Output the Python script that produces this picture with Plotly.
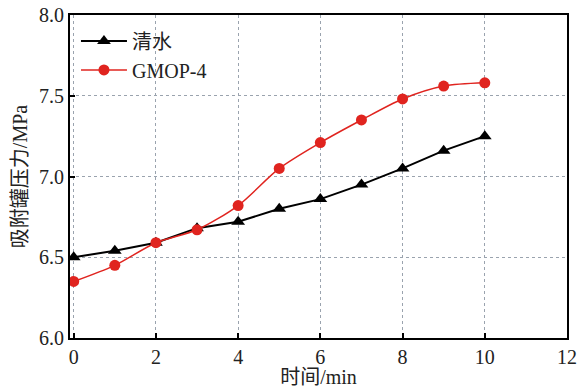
import plotly.graph_objects as go

time_min = [0, 1, 2, 3, 4, 5, 6, 7, 8, 9, 10]
water = [6.50, 6.54, 6.59, 6.68, 6.72, 6.80, 6.86, 6.95, 7.05, 7.16, 7.25]
gmop4 = [6.35, 6.45, 6.59, 6.67, 6.82, 7.05, 7.21, 7.35, 7.48, 7.56, 7.58]
x_ticks = [0, 2, 4, 6, 8, 10, 12]
y_ticks = [6.0, 6.5, 7.0, 7.5, 8.0]

font_main = "Liberation Serif, Noto Sans CJK SC, serif"
txt = "#222"

fig = go.Figure()
fig.add_trace(go.Scatter(
    x=time_min, y=water, name="清水", mode="lines+markers",
    line=dict(color="black", width=2),
    marker=dict(symbol="triangle-up", size=12, color="black"),
))
fig.add_trace(go.Scatter(
    x=time_min, y=gmop4, name="GMOP-4", mode="lines+markers",
    line=dict(color="#e0241f", width=1.5, shape="spline", smoothing=0.8),
    marker=dict(symbol="circle", size=11, color="#e0241f"),
))

axis_common = dict(
    showline=True, linecolor="black", linewidth=2, mirror=True,
    ticks="inside", ticklen=5, tickcolor="black", tickwidth=1.5,
    showgrid=True, gridcolor="#9aa3ae", griddash="dot", gridwidth=1,
    zeroline=False, automargin=False,
    tickfont=dict(family=font_main, size=20, color=txt),
)

fig.update_xaxes(range=[-0.09, 12], tickvals=x_ticks, ticktext=[str(v) for v in x_ticks],
                 title=dict(text="时间/min", font=dict(family=font_main, size=20, color=txt), standoff=10),
                 **axis_common)
fig.update_yaxes(range=[6.0, 8.0], tickvals=y_ticks, ticktext=[f"{v:.1f}" for v in y_ticks],
                 title=dict(text="吸附罐压力/MPa", font=dict(family=font_main, size=20, color=txt), standoff=6),
                 **axis_common)

fig.update_layout(
    width=578, height=388,
    margin=dict(l=70, r=11, t=15, b=50),
    plot_bgcolor="white", paper_bgcolor="white",
    legend=dict(x=0.012, y=0.98, xanchor="left", yanchor="top",
                bgcolor="rgba(255,255,255,0)", font=dict(family=font_main, size=20, color=txt),
                itemwidth=46, tracegroupgap=0),
    showlegend=True,
)

fig.write_html("out.html")
